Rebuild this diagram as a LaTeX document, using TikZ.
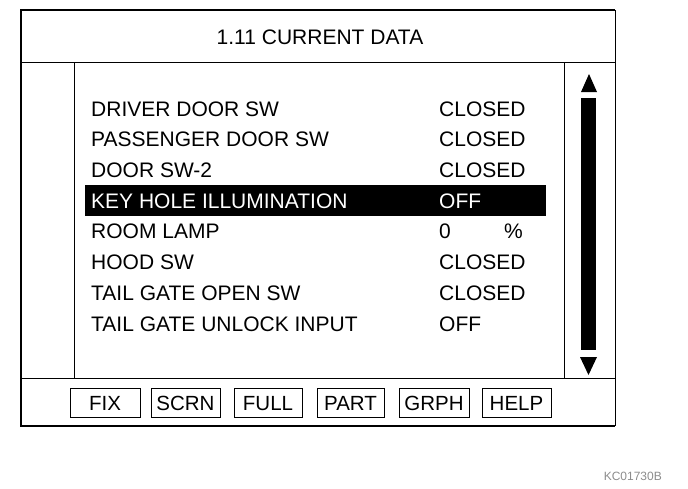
\documentclass[tikz,border=0pt]{standalone}
\usepackage{fontspec}
\setmainfont{Liberation Sans}
\begin{document}
\begin{tikzpicture}[x=1pt,y=-1pt,
  lbl/.style={anchor=base west,inner sep=0pt,font=\fontsize{21}{24}\selectfont},
  ttl/.style={anchor=base,inner sep=0pt,font=\fontsize{21}{24}\selectfont},
  btn/.style={draw,line width=0.9pt,minimum height=29pt,inner sep=0pt,text height=15pt,text depth=0pt,font=\fontsize{20.5}{24}\selectfont},
  thinline/.style={line width=0.9pt},
  thickline/.style={line width=2.6pt}]
\useasboundingbox (0,0) rectangle (688,488);
% outer frame
\coordinate (tl) at (21,10);
\coordinate (tr) at (615,10);
\coordinate (bl) at (21,426);
\coordinate (br) at (615,426);
\draw[thickline] (tr) -- (tl) -- (bl) -- (br);
\draw[thinline] (tr) -- (br);
% title separator
\coordinate (sl) at (21,62);
\coordinate (sr) at (615,62);
\draw[thinline] (sl) -- (sr);
\node[ttl] (title) at (320,44) {1.11 CURRENT DATA};
% inner box
\coordinate (il) at (74,62);
\coordinate (ib) at (74,378);
\coordinate (ir) at (564,62);
\coordinate (irb) at (564,378);
\draw[thinline] (il) -- (ib);
\draw[thinline] (ir) -- (irb);
% bottom separator
\coordinate (bsl) at (21,378);
\coordinate (bsr) at (615,378);
\draw[thinline] (bsl) -- (bsr);
% highlight bar
\fill[black] (85,185) rectangle (546,216);
% rows
\node[lbl] (r1) at (91,116) {DRIVER DOOR SW};
\node[lbl] (v1) at (439,116) {CLOSED};
\node[lbl] (r2) at (91,146.7) {PASSENGER DOOR SW};
\node[lbl] (v2) at (439,146.7) {CLOSED};
\node[lbl] (r3) at (91,177.4) {DOOR SW-2};
\node[lbl] (v3) at (439,177.4) {CLOSED};
\node[lbl,text=white] (r4) at (91,208) {KEY HOLE ILLUMINATION};
\node[lbl,text=white] (v4) at (439,208) {OFF};
\node[lbl] (r5) at (91,238.8) {ROOM LAMP};
\node[lbl] (v5) at (439,238.8) {0};
\node[lbl] (u5) at (504,238.8) {\%};
\node[lbl] (r6) at (91,269.5) {HOOD SW};
\node[lbl] (v6) at (439,269.5) {CLOSED};
\node[lbl] (r7) at (91,300.2) {TAIL GATE OPEN SW};
\node[lbl] (v7) at (439,300.2) {CLOSED};
\node[lbl] (r8) at (91,331) {TAIL GATE UNLOCK INPUT};
\node[lbl] (v8) at (439,331) {OFF};
% scrollbar
\fill[black] (589,74) -- (597,92) -- (581,92) -- cycle;
\fill[black] (580.5,98) rectangle (595.5,350);
\fill[black] (580,357) -- (597,357) -- (588.5,375) -- cycle;
% buttons
\node[btn,minimum width=70pt] (fix) at (105,403) {FIX};
\node[btn,minimum width=69pt] (scrn) at (185.5,403) {SCRN};
\node[btn,minimum width=68pt] (full) at (268,403) {FULL};
\node[btn,minimum width=67pt] (part) at (350.5,403) {PART};
\node[btn,minimum width=70pt] (grph) at (434,403) {GRPH};
\node[btn,minimum width=69pt] (help) at (516.5,403) {HELP};
% figure code
\node[anchor=base east,inner sep=0pt,text=black!45,font=\fontsize{12}{14}\selectfont] (code) at (662,480) {KC01730B};
\end{tikzpicture}
\end{document}
